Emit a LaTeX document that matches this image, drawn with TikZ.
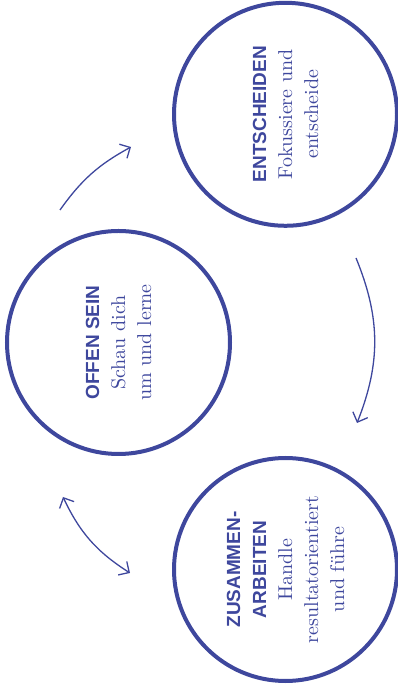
\documentclass[tikz,border=0pt]{standalone}
\usepackage{fontspec}
\usetikzlibrary{arrows.meta}
\newfontfamily\headfont{Liberation Sans}
\newfontfamily\bodyfont{lmroman10-regular.otf}
\definecolor{ringblue}{RGB}{62,71,157}
\tikzset{
	barb/.tip={Straight Barb[length=8pt,width=16pt]},
	ring/.style={draw=ringblue, line width=4pt, circle, minimum size=223pt, inner sep=0pt,
		rotate=90, align=center, text=ringblue, font=\bodyfont\fontsize{20}{26}\selectfont},
	flow/.style={draw=ringblue, line width=1.3pt, -barb},
	twoway/.style={draw=ringblue, line width=1.3pt, barb-barb},
}
\newcommand{\ringtitle}[1]{{\headfont\bfseries\fontsize{19}{26}\selectfont #1}}

\begin{document}
\begin{tikzpicture}[x=1pt,y=1pt]
			%%%%% START %%%%%
			\useasboundingbox (0,0) rectangle (397,690);
			
			\node[ring] (entscheiden) at (285.5,575.7) {\ringtitle{ENTSCHEIDEN}\\Fokussiere und\\entscheide};
			\node[ring] (offen) at (118.5,347.5) {\ringtitle{OFFEN SEIN}\\Schau dich\\um und lerne};
			\node[ring] (zusammen) at (285.5,120.5) {\ringtitle{ZUSAMMEN-}\\\ringtitle{ARBEITEN}\\Handle\\resultatorientiert\\und führe};
			
			\coordinate (offenOut) at (60,480);
			\coordinate (entscheidenIn) at (131,543);
			\draw[flow] (offenOut) to[bend left=13] (entscheidenIn);
			
			\coordinate (entscheidenOut) at (356,432);
			\coordinate (zusammenIn) at (357,267);
			\draw[flow] (entscheidenOut) to[bend left=22] (zusammenIn);
			
			\coordinate (offenEnd) at (63,193);
			\coordinate (zusammenEnd) at (130,117);
			\draw[twoway] (offenEnd) to[bend right=16] (zusammenEnd);
			
			%%%%% END %%%%%
\end{tikzpicture}
\end{document}
